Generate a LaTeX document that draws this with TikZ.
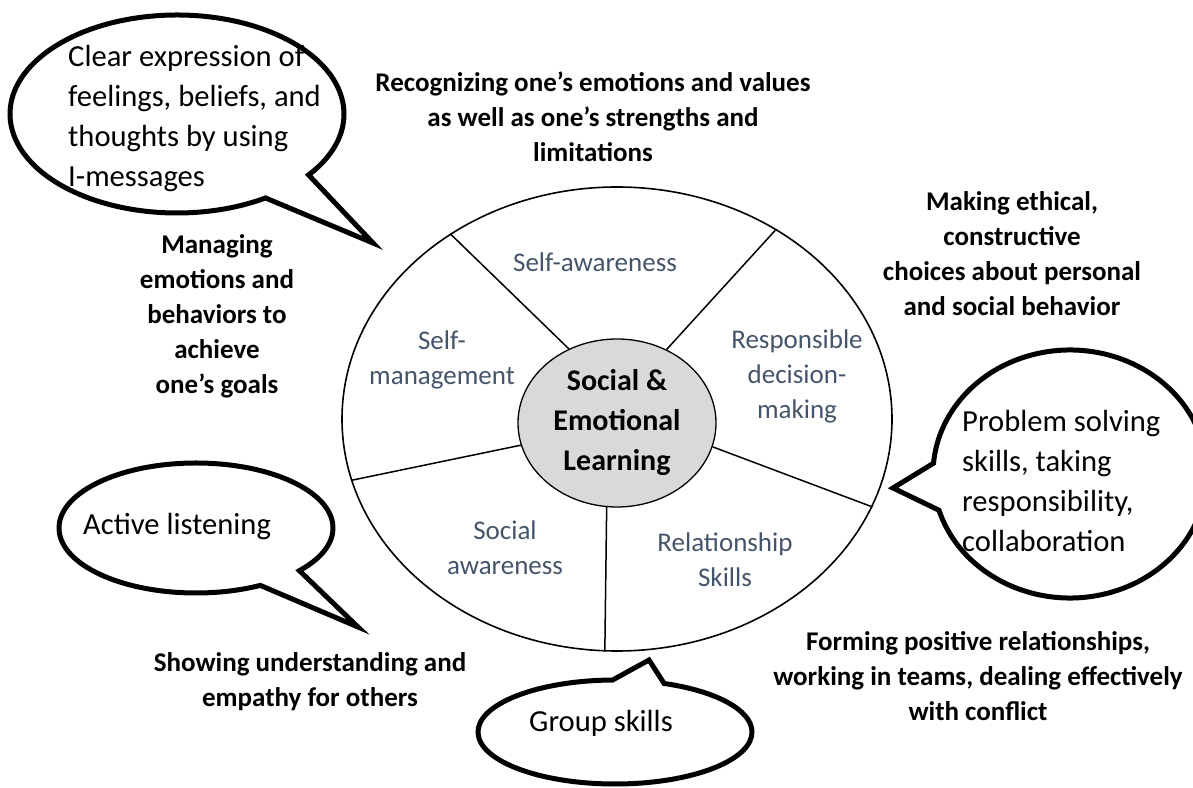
\documentclass[tikz,border=0pt]{standalone}
\usepackage{fontspec}
\setmainfont{Carlito}
\usepackage{tikz}
\usetikzlibrary{calc,shapes.geometric}

\definecolor{textgray}{HTML}{44546A}
\definecolor{hubgray}{HTML}{D9D9D9}

\tikzset{
  hub/.style={
      draw,
      ellipse,
      fill=hubgray,
      line width=1.3pt,
      minimum width=198pt, minimum height=168pt,
      inner sep=0pt,
      align=center,
      font=\fontsize{30}{40}\selectfont\bfseries,
  },
  wheel/.style={
      draw,
      ellipse,
      line width=1.6pt,
      minimum width=550pt, minimum height=464pt,
      inner sep=0pt,
  },
  spoke/.style={
      line width=1.5pt
  },
  segment/.style={
      align=center,
      text=textgray,
      inner sep=0pt,
      font=\fontsize{27}{35}\selectfont,
  },
  skill/.style={
      align=center,
      inner sep=0pt,
      font=\fontsize{27}{35}\selectfont\bfseries,
  },
  bubble/.style={
      draw,
      fill=white,
      line width=5pt,
      line join=miter,
  },
  bubbletext/.style={
      align=left,
      inner sep=0pt,
      font=\fontsize{30.6}{40}\selectfont,
  },
}
% speech bubble: centre, x radius, y radius, arc from/to, tail tip
\newcommand{\speechbubble}[6]{
    \draw[bubble] ($(#1)+(#4:#2 and #3)$)
      arc[start angle=#4, end angle=#5, x radius=#2, y radius=#3]
      -- (#6) -- cycle;
}

\begin{document}
\begin{tikzpicture}[x=1pt,y=1pt]
  \useasboundingbox (0,0) rectangle (1193,787);
  \clip (0,0) rectangle (1193,787);

  % the wheel and its hub
  \node(wheel) [wheel] at (617,368) {};
  \node(sel) [hub] at (617,364) {Social \&\\Emotional\\Learning};

  \draw[spoke] (sel.123) -- (wheel.132);
  \draw[spoke] (sel.56)  -- (wheel.50);
  \draw[spoke] (sel.193) -- (wheel.193);
  \draw[spoke] (sel.346) -- (wheel.341);
  \draw[spoke] (sel.263) -- (wheel.267);

  \node(selfaw)  [segment] at (595,525) {Self-awareness};
  \node(selfman) [segment] at (442,427) {Self-\\management};
  \node(respdm)  [segment] at (797,411) {Responsible\\decision-\\making};
  \node(socaw)   [segment] at (505,239) {Social\\awareness};
  \node(relsk)   [segment] at (725,227) {Relationship\\Skills};

  % what each competence means
  \node(recog)  [skill] at (593,670) {Recognizing one’s emotions and values\\as well as one’s strengths and\\limitations};
  \node(ethic)  [skill] at (1012,533) {Making ethical,\\constructive\\choices about personal\\and social behavior};
  \node(manage) [skill] at (217,471) {Managing\\emotions and\\behaviors to\\achieve\\one’s goals};
  \node(empath) [skill] at (310,105) {Showing understanding and\\empathy for others};
  \node(relate) [skill] at (978,111) {Forming positive relationships,\\working in teams, dealing effectively\\with conflict};

  % speech bubbles
  \coordinate (clearC) at (177,673);   \coordinate (clearTip) at (373,544);
  \coordinate (listenC) at (196,259);  \coordinate (listenTip) at (358,160);
  \coordinate (groupC) at (615,55);    \coordinate (groupTip) at (649,127);
  \coordinate (solveC) at (1070,313);  \coordinate (solveTip) at (893,299);

  \speechbubble{clearC}{167pt}{99pt}{-38}{302}{clearTip}
  \speechbubble{listenC}{137pt}{65pt}{-41}{298}{listenTip}
  \speechbubble{groupC}{137pt}{52pt}{91}{429}{groupTip}
  \speechbubble{solveC}{137pt}{124pt}{197}{535}{solveTip}

  \node(clear)  [bubbletext, anchor=west] at (68,668) {Clear expression of\\feelings, beliefs, and\\thoughts by using\\I-messages};
  \node(listen) [bubbletext, anchor=west] at (83,260) {Active listening};
  \node(group)  [bubbletext] at (601,64) {Group skills};
  \node(solve)  [bubbletext, anchor=west] at (962,306) {Problem solving\\skills, taking\\responsibility,\\collaboration};
\end{tikzpicture}
\end{document}
